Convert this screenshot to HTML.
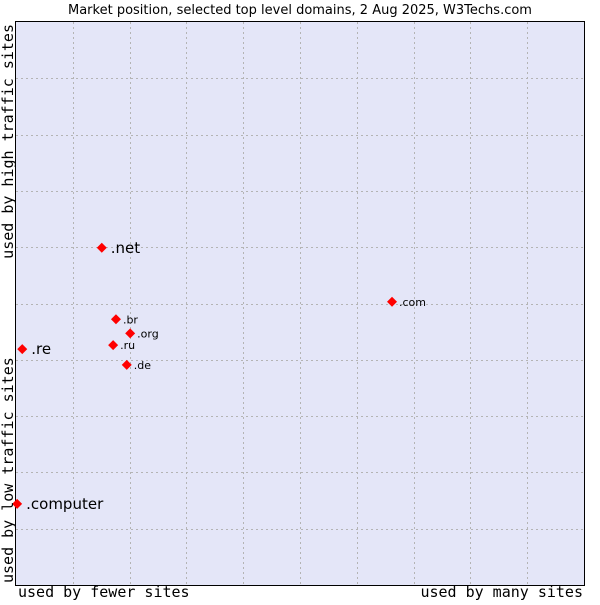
<!DOCTYPE html>
<html><head><meta charset="utf-8"><style>
body{margin:0;background:#fff;width:600px;height:600px;overflow:hidden}
svg text{font-family:"DejaVu Sans","Liberation Sans",sans-serif}
.mono{font-family:"DejaVu Sans Mono","Liberation Mono",monospace}
</style></head><body>
<svg id="chart" width="600" height="600">
<text x="300" y="14" text-anchor="middle" font-size="13" fill="#000">Market position, selected top level domains, 2 Aug 2025, W3Techs.com</text>
<rect x="15.5" y="21.5" width="569" height="564" fill="#e4e6f8" stroke="#000" stroke-width="1"/>
<g id="grid"></g>
<g id="points"></g>
<text class="mono" x="18" y="597" font-size="15">used by fewer sites</text>
<text class="mono" x="583" y="597" font-size="15" text-anchor="end">used by many sites</text>
<text class="mono" transform="translate(13,583) rotate(-90)" font-size="15">used by low traffic sites</text>
<text class="mono" transform="translate(13,24) rotate(-90)" font-size="15" text-anchor="end">used by high traffic sites</text>
</svg>
<script>
const domains=[".net",".com",".br",".org",".ru",".re",".de",".computer"];
const siteShare=[15.1,66.2,17.6,20.1,17.1,1.1,19.5,0.2];
const trafficScore=[59.9,50.3,47.2,44.7,42.6,41.9,39.1,14.4];
const labelSize=[15,11,11,11,11,15,11,15];
const NS="http://www.w3.org/2000/svg";
const X0=16,X1=584,Y0=585,Y1=22;
const xs=v=>X0+v/100*(X1-X0);
const ys=v=>Y0-v/100*(Y0-Y1);
const grid=document.getElementById('grid');
for(let i=1;i<10;i++){
  const vx=document.createElementNS(NS,'line');
  const gx=Math.round(xs(i*10))+0.5;
  vx.setAttribute('x1',gx);vx.setAttribute('x2',gx);vx.setAttribute('y1',Y1);vx.setAttribute('y2',Y0);
  vx.setAttribute('stroke','#b4b4b4');vx.setAttribute('stroke-dasharray','2,3');
  
  
  grid.appendChild(vx);
  const hy=document.createElementNS(NS,'line');
  const gy=Math.round(ys(i*10))+0.5;
  hy.setAttribute('x1',X0);hy.setAttribute('x2',X1);hy.setAttribute('y1',gy);hy.setAttribute('y2',gy);
  hy.setAttribute('stroke','#b4b4b4');hy.setAttribute('stroke-dasharray','2,3');
  
  
  grid.appendChild(hy);
}
const pts=document.getElementById('points');
domains.forEach((d,i)=>{
  const cx=xs(siteShare[i]),cy=ys(trafficScore[i]);
  const p=document.createElementNS(NS,'polygon');
  p.setAttribute('points',`${cx},${cy-5} ${cx+5},${cy} ${cx},${cy+5} ${cx-5},${cy}`);
  p.setAttribute('fill','#f00');
  
  
  pts.appendChild(p);
  const t=document.createElementNS(NS,'text');
  t.setAttribute('x',cx+(labelSize[i]>12?9:7));
  t.setAttribute('y',cy+(labelSize[i]>12?5:4));
  t.setAttribute('font-size',labelSize[i]);
  t.textContent=d;
  
  
  pts.appendChild(t);
});
</script>
</body></html>
